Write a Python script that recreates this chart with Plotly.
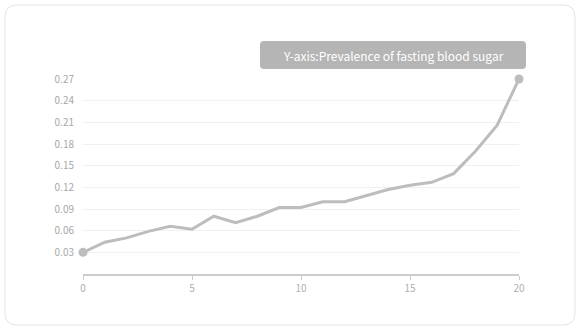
import plotly.graph_objects as go

years = list(range(21))
prevalence = [0.030, 0.044, 0.050, 0.059, 0.066, 0.062, 0.080, 0.071, 0.080, 0.092,
              0.092, 0.100, 0.100, 0.108, 0.117, 0.123, 0.127, 0.139, 0.170, 0.206, 0.270]
y_ticks = [0.03, 0.06, 0.09, 0.12, 0.15, 0.18, 0.21, 0.24, 0.27]
y_tick_labels = ["0.03", "0.06", "0.09", "0.12", "0.15", "0.18", "0.21", "0.24", "0.27"]
x_ticks = [0, 5, 10, 15, 20]
legend_text = "Y-axis:Prevalence of fasting blood sugar"

W, H = 580, 330
L, R, T, B = 83, 61, 79, 56
PW, PH = W - L - R, H - T - B

def px(x):
    return (x - L) / PW

def py(y):
    return (H - B - y) / PH

def rounded(x0, y0, x1, y1, r):
    # pixel coords -> paper path with rounded corners
    a, b, c, d = px(x0), px(x1), py(y0), py(y1)
    rx, ry = r / PW, r / PH
    return (f"M {a+rx},{c} L {b-rx},{c} Q {b},{c} {b},{c-ry} "
            f"L {b},{d+ry} Q {b},{d} {b-rx},{d} L {a+rx},{d} "
            f"Q {a},{d} {a},{d+ry} L {a},{c-ry} Q {a},{c} {a+rx},{c} Z")

fig = go.Figure()
fig.add_trace(go.Scatter(
    x=years, y=prevalence, mode="lines",
    line=dict(color="#bdbdbd", width=3),
    hoverinfo="skip", showlegend=False,
))
fig.add_trace(go.Scatter(
    x=[years[0], years[-1]], y=[prevalence[0], prevalence[-1]], mode="markers",
    marker=dict(color="#bdbdbd", size=9),
    hoverinfo="skip", showlegend=False, cliponaxis=False,
))

fig.update_layout(
    width=W, height=H,
    margin=dict(l=L, r=R, t=T, b=B),
    paper_bgcolor="white", plot_bgcolor="white",
    font=dict(family="Noto Sans CJK KR, Noto Sans, sans-serif", color="#a8a8a8", size=10),
    xaxis=dict(
        range=[0, 20], tickvals=x_ticks, showgrid=False, zeroline=False,
        showline=True, linecolor="#cccccc", linewidth=2,
        ticks="outside", ticklen=4, tickcolor="#cccccc", tickwidth=1,
        tickfont=dict(size=10, color="#b0b0b0"),
    ),
    yaxis=dict(
        range=[0, 0.27], tickvals=y_ticks, ticktext=y_tick_labels,
        showgrid=True, gridcolor="#f0f0f0", gridwidth=1, zeroline=False,
        showline=False, ticks="", ticklabelstandoff=8,
        tickfont=dict(size=10, color="#a8a8a8"),
    ),
    shapes=[
        dict(type="path", xref="paper", yref="paper",
             path=rounded(5, 5, 575, 325, 12),
             line=dict(color="#e4e4e4", width=1), fillcolor="rgba(0,0,0,0)", layer="below"),
        dict(type="path", xref="paper", yref="paper",
             path=rounded(260, 41, 526, 69, 4),
             line=dict(width=0), fillcolor="#b5b5b5", layer="above"),
    ],
    annotations=[
        dict(xref="paper", yref="paper", x=px(393), y=py(55), text=legend_text,
             showarrow=False, xanchor="center", yanchor="middle",
             font=dict(size=12, color="white", family="Noto Sans CJK KR, Noto Sans, sans-serif")),
    ],
)

fig.write_html("out.html")
